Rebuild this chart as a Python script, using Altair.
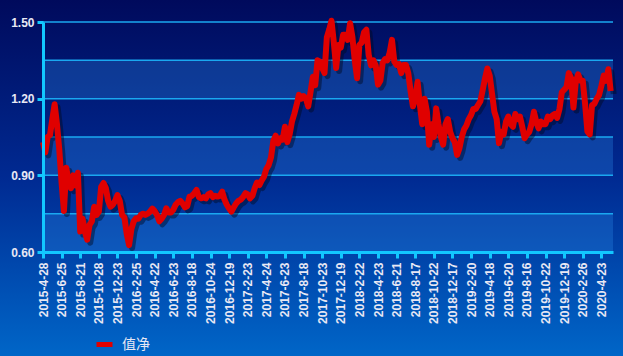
import altair as alt
import pandas as pd

# Weekly NAV readings (every 5 trading days from 2015-4-28)
nav = [
    1.03, 0.99, 1.05, 1.058, 1.12, 1.178, 1.10, 1.00, 0.87, 0.76,
    0.93, 0.875, 0.85, 0.90, 0.86, 0.91, 0.68, 0.73, 0.68, 0.648,
    0.706, 0.72, 0.777, 0.745, 0.758, 0.855, 0.87, 0.85, 0.80, 0.777,
    0.785, 0.80, 0.823, 0.80, 0.745, 0.735, 0.67, 0.627, 0.69, 0.72,
    0.732, 0.73, 0.745, 0.75, 0.745, 0.75, 0.758, 0.77, 0.76, 0.745,
    0.72, 0.73, 0.745, 0.771, 0.755, 0.755, 0.765, 0.785, 0.795, 0.80,
    0.79, 0.775, 0.78, 0.817, 0.82, 0.83, 0.843, 0.815, 0.81, 0.815,
    0.81, 0.825, 0.83, 0.815, 0.82, 0.817, 0.82, 0.836, 0.805, 0.785,
    0.77, 0.758, 0.775, 0.79, 0.80, 0.805, 0.815, 0.83, 0.825, 0.81,
    0.82, 0.85, 0.872, 0.862, 0.88, 0.895, 0.925, 0.94, 0.97, 1.035,
    1.055, 1.025, 1.045, 1.04, 1.09, 1.03, 1.06, 1.11, 1.14, 1.175,
    1.215, 1.20, 1.21, 1.20, 1.17, 1.227, 1.286, 1.253, 1.35, 1.345,
    1.32, 1.30, 1.44, 1.47, 1.505, 1.42, 1.32, 1.41, 1.40, 1.45,
    1.45, 1.43, 1.495, 1.44, 1.35, 1.28, 1.41, 1.42, 1.46, 1.47,
    1.371, 1.33, 1.35, 1.33, 1.255, 1.27, 1.34, 1.355, 1.35, 1.38,
    1.43, 1.345, 1.332, 1.335, 1.30, 1.332, 1.332, 1.30, 1.23, 1.17,
    1.20, 1.266, 1.175, 1.10, 1.20, 1.15, 1.02, 1.10, 1.05, 1.162,
    1.10, 1.05, 1.02, 1.10, 1.12, 1.07, 1.045, 1.03, 0.98, 1.006,
    1.05, 1.08, 1.095, 1.12, 1.136, 1.16, 1.16, 1.175, 1.19, 1.234,
    1.28, 1.318, 1.29, 1.22, 1.149, 1.12, 1.026, 1.07, 1.06, 1.11,
    1.13, 1.10, 1.09, 1.14, 1.12, 1.13, 1.09, 1.045, 1.06, 1.07,
    1.10, 1.149, 1.11, 1.084, 1.11, 1.10, 1.10, 1.13, 1.12, 1.135,
    1.14, 1.125, 1.16, 1.225, 1.235, 1.245, 1.30, 1.28, 1.165, 1.266,
    1.295, 1.27, 1.27, 1.18, 1.072, 1.06, 1.175, 1.18, 1.20, 1.214,
    1.25, 1.29, 1.27, 1.315, 1.23,
]
days_per_reading = 5

date_labels = [
    "2015-4-28", "2015-6-25", "2015-8-21", "2015-10-28", "2015-12-23",
    "2016-2-25", "2016-4-22", "2016-6-23", "2016-8-18", "2016-10-24",
    "2016-12-19", "2017-2-23", "2017-4-24", "2017-6-23", "2017-8-18",
    "2017-10-23", "2017-12-19", "2018-2-22", "2018-4-23", "2018-6-21",
    "2018-8-17", "2018-10-22", "2018-12-17", "2019-2-20", "2019-4-18",
    "2019-6-20", "2019-8-16", "2019-10-22", "2019-12-19", "2020-2-26",
    "2020-4-23",
]
days_per_label = 40
total_days = 1225

y_labels = [0.60, 0.90, 1.20, 1.50]
grid_values = [0.60, 0.75, 0.90, 1.05, 1.20, 1.35, 1.50]
band_lo = [0.60, 0.90, 1.20]
band_hi = [0.75, 1.05, 1.35]
series_name = "值净"

df = pd.DataFrame({
    "day": [i * days_per_reading for i in range(len(nav))],
    "nav": nav,
    "series": series_name,
})
grid_df = pd.DataFrame({"v": grid_values})
band_df = pd.DataFrame({"lo": band_lo, "hi": band_hi})
bg_df = pd.DataFrame({"k": [0]})

tick_days = [i * days_per_label for i in range(len(date_labels))]
label_js = "[" + ",".join('"%s"' % s for s in date_labels) + "]"

W, H = 570, 230
PL, PT, PR, PB = 43, 22, 10, 104

xscale = alt.Scale(domain=[0, total_days], nice=False, zero=False)
yscale = alt.Scale(domain=[0.6, 1.5], nice=False, zero=False)

cyan = "#12c8ff"
label_color = "#e8e8f4"

x_axis = alt.Axis(
    values=tick_days, labelAngle=-90, labelAlign="right",
    labelBaseline="middle",
    labelExpr=label_js + "[round(datum.value / %d)]" % days_per_label,
    title=None, grid=False, domainColor=cyan, domainWidth=3,
    tickColor=cyan, tickWidth=3, tickSize=6, labelPadding=4,
    labelColor=label_color, labelFont="Liberation Sans",
    labelFontSize=12, labelFontWeight="bold", zindex=1,
    labelOverlap=False,
)
y_axis = alt.Axis(
    values=y_labels, format=".2f", title=None, grid=False,
    domainColor=cyan, domainWidth=3, tickColor=cyan, tickWidth=3,
    tickSize=6, labelPadding=3, labelColor=label_color,
    labelFont="Liberation Sans", labelFontSize=12,
    labelFontWeight="bold", zindex=1,
)

bg = alt.Chart(bg_df).mark_rect(
    color=alt.LinearGradient(
        gradient="linear",
        stops=[
            alt.GradientStop(color="#000a5c", offset=0),
            alt.GradientStop(color="#002a92", offset=0.5),
            alt.GradientStop(color="#0066c8", offset=1),
        ],
        x1=0, x2=0, y1=0, y2=1,
    )
).encode(
    x=alt.value(-PL), x2=alt.value(W + PR),
    y=alt.value(-PT), y2=alt.value(H + PB),
)

bands = alt.Chart(band_df).mark_rect(color="#2a8ae8", opacity=0.3).encode(
    y=alt.Y("lo:Q", scale=yscale, axis=y_axis),
    y2="hi:Q",
)

grid = alt.Chart(grid_df).mark_rule(color="#1aa8f0", strokeWidth=1.5).encode(
    y=alt.Y("v:Q", scale=yscale, axis=y_axis),
)

shadow = alt.Chart(df).mark_line(
    color="#000820", opacity=0.45, strokeWidth=6, xOffset=3, yOffset=3,
    strokeJoin="round",
).encode(
    x=alt.X("day:Q", scale=xscale, axis=x_axis),
    y=alt.Y("nav:Q", scale=yscale, axis=y_axis),
)

line = alt.Chart(df).mark_line(strokeWidth=6, strokeJoin="round").encode(
    x=alt.X("day:Q", scale=xscale, axis=x_axis),
    y=alt.Y("nav:Q", scale=yscale, axis=y_axis),
    color=alt.Color(
        "series:N",
        scale=alt.Scale(domain=[series_name], range=["#e00000"]),
        legend=alt.Legend(
            title=None, orient="none", legendX=51, legendY=312,
            symbolType="stroke", symbolStrokeWidth=5, symbolSize=256,
            labelColor=label_color, labelFont="Noto Sans CJK SC",
            labelFontSize=14, padding=0, labelOffset=7,
        ),
    ),
)

chart = alt.layer(bg, bands, grid, shadow, line).properties(
    width=W, height=H,
    padding={"left": PL, "top": PT, "right": PR, "bottom": PB},
    autosize=alt.AutoSizeParams(type="none"),
    background="#001060",
).configure_view(stroke=None)

chart.save("out.html", embed_options={"renderer": "svg", "actions": False})
